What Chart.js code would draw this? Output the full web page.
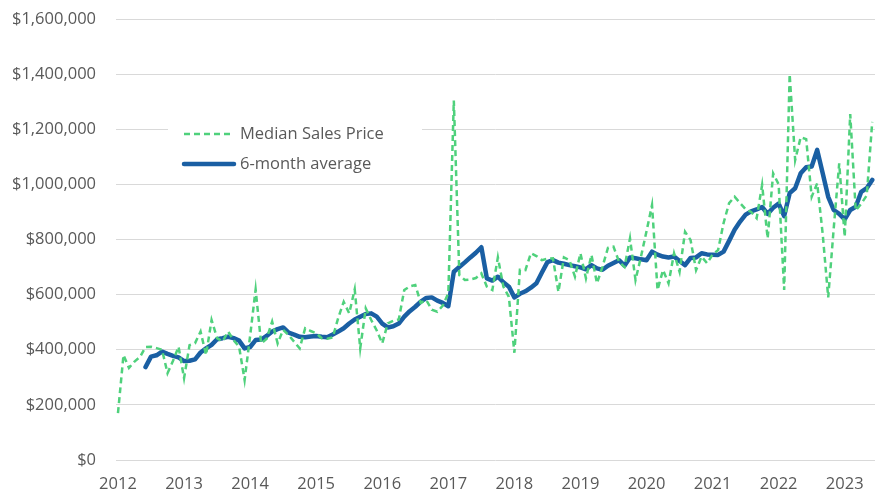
<!DOCTYPE html>
<html>
<head>
<meta charset="utf-8">
<script src="https://cdn.jsdelivr.net/npm/chart.js"></script>
<style>
  html, body { margin: 0; padding: 0; background: #ffffff; }
  #wrap { width: 894px; height: 504px; position: relative; }
</style>
</head>
<body>
<div id="wrap"><canvas id="chart" width="894" height="504"></canvas></div>
<script>
// tick labels for the x axis (one per January)
const yearLabels = ['2012', '2013', '2014', '2015', '2016', '2017', '2018', '2019', '2020', '2021', '2022', '2023'];

// monthly median sales price, Jan 2012 .. Jun 2023
const medianPrice = [
  170000, 381000, 334000, 357000, 374000, 410000, 411000, 406000, 400000, 315000, 360000, 411000,
  297000, 417000, 424000, 466000, 381000, 508000, 442000, 430000, 466000, 435000, 411000, 290000,
  450000, 619000, 423000, 440000, 502000, 423000, 472000, 453000, 429000, 405000, 478000, 468000,
  460000, 442000, 440000, 445000, 515000, 574000, 532000, 619000, 405000, 550000, 508000, 470000,
  423000, 496000, 505000, 510000, 617000, 630000, 635000, 570000, 580000, 545000, 538000, 560000,
  605000, 1304000, 671000, 653000, 655000, 660000, 677000, 629000, 617000, 735000, 629000, 592000,
  389000, 690000, 689000, 750000, 740000, 725000, 730000, 732000, 610000, 735000, 725000, 665000,
  750000, 659000, 744000, 641000, 701000, 770000, 774000, 720000, 700000, 804000, 653000, 738000,
  830000, 925000, 617000, 689000, 641000, 750000, 683000, 828000, 798000, 689000, 738000, 714000,
  745000, 762000, 860000, 932000, 955000, 932000, 910000, 900000, 877000, 998000, 804000, 1040000,
  1000000, 617000, 1400000, 1088000, 1171000, 1164000, 955000, 1004000, 820000, 590000, 840000, 1076000,
  810000, 1255000, 905000, 930000, 960000, 1227000
];

// 6-month average as drawn (starts in Jun 2012)
const sixMonthAvg = [
  null, null, null, null, null, 337000, 375000, 380000, 393000, 385000, 378000, 372000,
  359000, 360000, 365000, 390000, 405000, 418000, 438000, 442000, 447000, 442000, 433000, 405000,
  410000, 435000, 437000, 450000, 466000, 475000, 481000, 462000, 455000, 447000, 445000, 448000,
  450000, 447000, 445000, 455000, 466000, 478000, 495000, 510000, 520000, 530000, 532000, 520000,
  495000, 481000, 485000, 495000, 520000, 540000, 556000, 575000, 588000, 590000, 578000, 570000,
  558000, 683000, 700000, 717000, 735000, 752000, 772000, 659000, 651000, 665000, 645000, 629000,
  590000, 603000, 612000, 625000, 641000, 680000, 718000, 725000, 716000, 712000, 707000, 703000,
  699000, 692000, 707000, 695000, 690000, 705000, 715000, 725000, 705000, 735000, 732000, 728000,
  725000, 756000, 745000, 738000, 735000, 738000, 722000, 707000, 733000, 735000, 750000, 746000,
  745000, 744000, 756000, 795000, 835000, 865000, 890000, 902000, 909000, 918000, 893000, 915000,
  930000, 885000, 968000, 986000, 1040000, 1062000, 1065000, 1125000, 1040000, 955000, 907000, 893000,
  873000, 907000, 919000, 973000, 986000, 1016000
];

const seriesNames = ['Median Sales Price', '6-month average'];

const GREEN = '#4fd17c';
const BLUE = '#1a5fa3';
const TEXT = '#595959';
const GRID = '#d9d9d9';
const FONT = "'Open Sans', 'Segoe UI', sans-serif";

// legend drawn inside the plot, on a white box
const insideLegend = {
  id: 'insideLegend',
  afterDatasetsDraw(chart) {
    const ctx = chart.ctx;
    ctx.save();
    ctx.fillStyle = '#ffffff';
    ctx.fillRect(168, 108, 254, 70);
    const rows = [
      { y: 134, color: GREEN, width: 2.5, dash: [6, 4], cap: 'butt' },
      { y: 164, color: BLUE, width: 4.5, dash: [], cap: 'round' }
    ];
    rows.forEach((r, i) => {
      ctx.beginPath();
      ctx.strokeStyle = r.color;
      ctx.lineWidth = r.width;
      ctx.setLineDash(r.dash);
      ctx.lineCap = r.cap;
      ctx.moveTo(184, r.y);
      ctx.lineTo(234, r.y);
      ctx.stroke();
      ctx.setLineDash([]);
      ctx.fillStyle = TEXT;
      ctx.font = '16.5px ' + FONT;
      ctx.textBaseline = 'middle';
      ctx.textAlign = 'left';
      ctx.fillText(seriesNames[i], 240, r.y);
    });
    ctx.restore();
  }
};

const toPoints = arr => arr.map((v, i) => ({ x: i, y: v }));

new Chart(document.getElementById('chart'), {
  type: 'line',
  data: {
    datasets: [
      {
        label: seriesNames[0],
        data: toPoints(medianPrice),
        borderColor: GREEN,
        borderWidth: 2.5,
        borderDash: [6, 4],
        pointRadius: 0,
        tension: 0,
        fill: false
      },
      {
        label: seriesNames[1],
        data: toPoints(sixMonthAvg),
        borderColor: BLUE,
        borderWidth: 4.5,
        borderCapStyle: 'round',
        borderJoinStyle: 'round',
        pointRadius: 0,
        tension: 0,
        fill: false,
        spanGaps: false
      }
    ]
  },
  options: {
    responsive: false,
    animation: false,
    layout: { padding: { top: 19, right: 19, bottom: 0, left: 0 } },
    plugins: {
      legend: { display: false },
      tooltip: { enabled: false }
    },
    scales: {
      x: {
        type: 'linear',
        min: -0.36,
        max: 137.5,
        afterBuildTicks: axis => {
          axis.ticks = yearLabels.map((_, i) => ({ value: i * 12 }));
        },
        afterFit: axis => { axis.height = 44; axis.paddingLeft = 0; axis.paddingRight = 0; },
        ticks: {
          callback: v => yearLabels[v / 12],
          color: TEXT,
          font: { family: FONT, size: 16.5 },
          maxRotation: 0,
          autoSkip: false,
          padding: 14
        },
        grid: { display: false, drawTicks: false },
        border: { display: false }
      },
      y: {
        min: 0,
        max: 1600000,
        afterFit: axis => { axis.width = 116; axis.paddingTop = 0; axis.paddingBottom = 0; },
        ticks: {
          stepSize: 200000,
          color: TEXT,
          font: { family: FONT, size: 16.5 },
          padding: 20,
          callback: v => '$' + v.toLocaleString('en-US')
        },
        grid: { color: GRID, lineWidth: 1, drawTicks: false },
        border: { display: false }
      }
    }
  },
  plugins: [insideLegend]
});
</script>
</body>
</html>
